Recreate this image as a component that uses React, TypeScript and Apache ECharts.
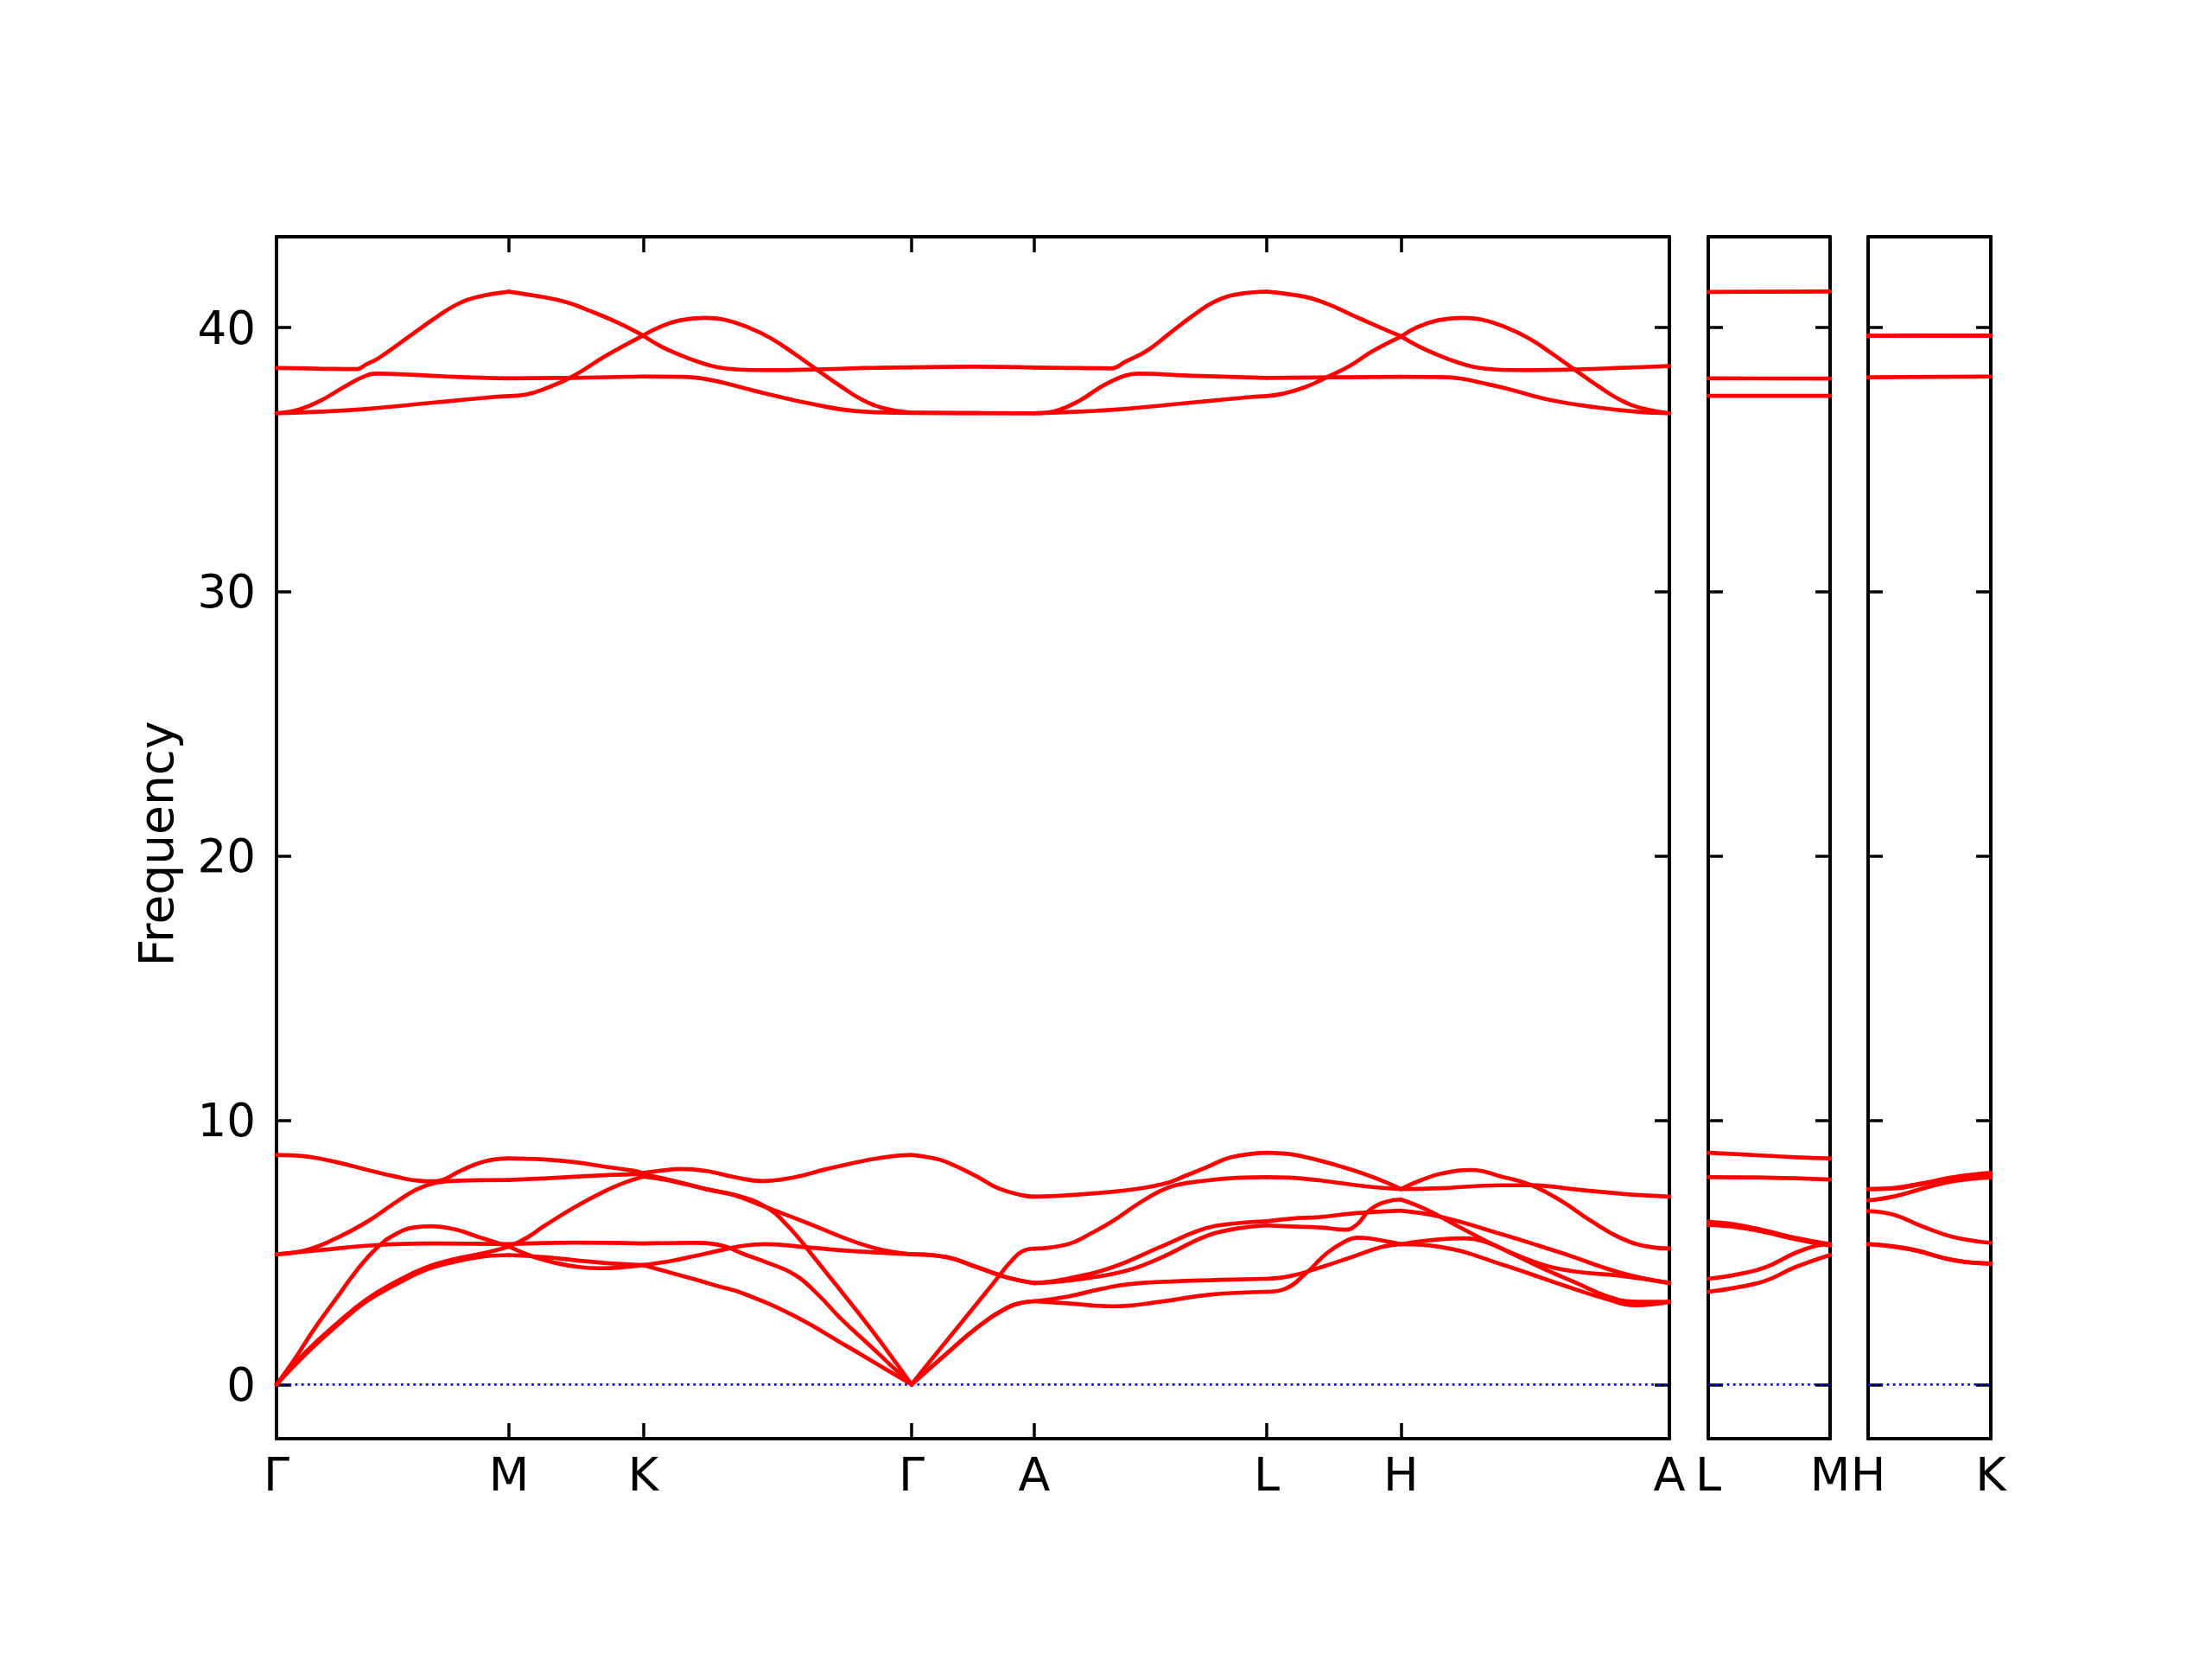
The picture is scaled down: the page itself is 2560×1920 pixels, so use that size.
import React, { useEffect, useRef } from "react";
import * as echarts from "echarts";

// ---- high-symmetry path (distance units, Γ-M = 1) ----
const kPath1 = [0, 1, 1.5774, 2.7321, 3.2601, 4.2601, 4.8375, 5.9922];
const kLabels1 = ["Γ", "M", "K", "Γ", "A", "L", "H", "A"];
const kPath2 = [0, 0.528];
const kLabels2 = ["L", "M"];
const kPath3 = [0, 0.528];
const kLabels3 = ["H", "K"];
const freqTicks = [0, 10, 20, 30, 40];
const freqMin = -2.05;
const freqMax = 43.44;

// ---- panel 1 : Γ-M-K-Γ-A-L-H-A ----
const lowBand1 = [
  [0, 8.69], [0.128, 8.63], [0.256, 8.42], [0.384, 8.14], [0.512, 7.87], [0.615, 7.71], [0.68, 7.69], [0.73, 7.8], [0.794, 8.1], [0.896, 8.45], [1, 8.56],
  [1.152, 8.52], [1.28, 8.42], [1.408, 8.25], [1.536, 8.09], [1.5774, 8.0],
  [1.66, 8.1], [1.741, 8.16], [1.856, 8.07], [1.97, 7.85], [2.09, 7.7], [2.231, 7.85], [2.361, 8.14], [2.557, 8.52], [2.65, 8.64], [2.7321, 8.69],
  [2.818, 8.58], [2.883, 8.42], [3.013, 7.87], [3.104, 7.43], [3.209, 7.16], [3.2601, 7.11],
  [3.4, 7.16], [3.55, 7.26], [3.7, 7.4], [3.835, 7.64], [3.91, 7.9], [3.99, 8.18], [4.107, 8.6], [4.2601, 8.77],
  [4.36, 8.72], [4.45, 8.56], [4.56, 8.3], [4.67, 8.0], [4.76, 7.7], [4.8375, 7.4],
  [4.92, 7.72], [5.01, 7.98], [5.14, 8.12], [5.27, 7.87], [5.4, 7.54], [5.528, 6.94], [5.657, 6.18], [5.786, 5.53], [5.915, 5.2], [5.9922, 5.15],
];
const lowBand2 = [
  [0, 4.93], [0.128, 5.09], [0.256, 5.53], [0.384, 6.13], [0.512, 6.89], [0.602, 7.38], [0.679, 7.62], [0.768, 7.71], [1, 7.74],
  [1.15, 7.8], [1.28, 7.86], [1.41, 7.92], [1.5774, 7.97],
  [1.664, 7.8], [1.76, 7.6], [1.856, 7.38], [1.97, 7.16], [2.1, 6.73], [2.296, 6.07], [2.427, 5.6], [2.557, 5.2], [2.65, 5.02], [2.7321, 4.93],
  [2.883, 4.82], [3.013, 4.44], [3.144, 4.05], [3.2601, 3.84],
  [3.4, 4.0], [3.6, 4.45], [3.8, 5.2], [4.0, 5.92], [4.13, 6.1], [4.2601, 6.18],
  [4.365, 6.28], [4.494, 6.34], [4.6, 6.45], [4.72, 6.53], [4.8375, 6.58],
  [5.012, 6.34], [5.27, 5.69], [5.528, 4.98], [5.786, 4.22], [5.9922, 3.84],
];
const lowBand3 = [
  [0, 4.93], [0.192, 5.09], [0.384, 5.25], [0.64, 5.34], [1, 5.31],
  [1.28, 5.37], [1.5774, 5.34],
  [1.792, 5.36], [1.92, 5.25], [2.007, 4.95], [2.1, 4.65], [2.231, 4.15], [2.33, 3.4], [2.427, 2.5], [2.55, 1.5], [2.64, 0.75], [2.7321, 0],
  [2.883, 1.17], [3.013, 2.15], [3.144, 2.91], [3.209, 3.1], [3.2601, 3.15],
  [3.404, 3.33], [3.55, 3.62], [3.67, 3.8], [3.85, 3.9], [4.015, 3.95], [4.2601, 4.0],
  [4.365, 4.11], [4.494, 4.44], [4.624, 4.82], [4.753, 5.2], [4.8375, 5.31],
  [4.93, 5.43], [5.012, 5.5], [5.1, 5.53], [5.2, 5.4], [5.335, 4.9], [5.464, 4.49], [5.593, 4.27], [5.787, 4.11], [5.9922, 3.84],
];
const lowBand4 = [
  [0, 0], [0.077, 0.95], [0.166, 2.15], [0.256, 3.24], [0.346, 4.33], [0.435, 5.2], [0.512, 5.69], [0.589, 5.94], [0.666, 5.99], [0.768, 5.87], [0.871, 5.58], [1, 5.22],
  [1.1, 4.85], [1.2, 4.6], [1.3, 4.45], [1.39, 4.4], [1.5774, 4.52],
  [1.7, 4.68], [1.792, 4.85], [1.92, 5.1], [2.007, 5.25], [2.1, 5.31], [2.296, 5.18], [2.491, 5.04], [2.7321, 4.93],
  [2.883, 4.82], [3.013, 4.44], [3.144, 4.05], [3.2601, 3.84],
  [3.4, 3.93], [3.64, 4.27], [3.8, 4.78], [4.0, 5.62], [4.13, 5.9], [4.2601, 6.02],
  [4.365, 5.98], [4.494, 5.94], [4.598, 5.86], [4.65, 6.07], [4.702, 6.6], [4.779, 6.93], [4.8375, 7.0],
  [4.947, 6.62], [5.076, 6.02], [5.206, 5.42], [5.335, 4.87], [5.464, 4.33], [5.593, 3.84], [5.722, 3.35], [5.851, 3.13], [5.9922, 3.13],
];
const lowBand5 = [
  [0, 0], [0.128, 1.25], [0.256, 2.28], [0.384, 3.2], [0.512, 3.88], [0.64, 4.42], [0.768, 4.75], [0.896, 4.98], [1, 5.22],
  [1.076, 5.55], [1.152, 6.0], [1.28, 6.7], [1.408, 7.3], [1.5, 7.65], [1.5774, 7.87],
  [1.664, 7.76], [1.76, 7.58], [1.856, 7.38], [1.97, 7.18], [2.1, 6.75], [2.2, 6.0], [2.3, 4.95], [2.4, 3.85], [2.5, 2.75], [2.6, 1.6], [2.7321, 0],
  [2.818, 0.95], [2.948, 2.36], [3.079, 3.78], [3.17, 4.76], [3.222, 5.09], [3.2601, 5.14],
  [3.404, 5.31], [3.5, 5.7], [3.6, 6.2], [3.7, 6.8], [3.796, 7.3], [3.87, 7.55], [4.0, 7.72], [4.13, 7.82], [4.2601, 7.85],
  [4.36, 7.83], [4.494, 7.72], [4.688, 7.5], [4.8375, 7.4],
  [5.012, 7.43], [5.14, 7.5], [5.27, 7.54], [5.4, 7.54], [5.593, 7.38], [5.787, 7.22], [5.9922, 7.11],
];
const lowBand6 = [
  [0, 0], [0.128, 1.17], [0.256, 2.2], [0.384, 3.13], [0.512, 3.78], [0.64, 4.33], [0.768, 4.65], [0.896, 4.85], [1, 4.9],
  [1.152, 4.82], [1.28, 4.71], [1.408, 4.6], [1.5774, 4.52],
  [1.7, 4.22], [1.792, 4.0], [1.9, 3.72], [2.007, 3.45], [2.231, 2.58], [2.45, 1.47], [2.6, 0.69], [2.7321, 0],
  [2.883, 1.17], [3.013, 2.15], [3.144, 2.91], [3.209, 3.1], [3.2601, 3.15],
  [3.404, 3.07], [3.6, 2.96], [3.8, 3.13], [4.015, 3.4], [4.2601, 3.51],
  [4.339, 3.62], [4.43, 4.22], [4.52, 4.98], [4.598, 5.42], [4.65, 5.56], [4.702, 5.53], [4.8375, 5.31],
  [5.012, 5.2], [5.27, 4.55], [5.528, 3.78], [5.72, 3.24], [5.85, 3.0], [5.93, 3.05], [5.9922, 3.13],
];
const highBandA = [
  [0, 38.47], [0.17, 38.45], [0.346, 38.43], [0.384, 38.6], [0.44, 38.85], [0.576, 39.7], [0.672, 40.3], [0.768, 40.84], [0.864, 41.16], [1, 41.36],
  [1.152, 41.15], [1.248, 40.96], [1.344, 40.65], [1.46, 40.22], [1.5774, 39.7],
  [1.652, 39.3], [1.727, 39.0], [1.817, 38.7], [1.897, 38.5], [1.977, 38.42], [2.127, 38.39], [2.327, 38.42], [2.53, 38.47], [2.7321, 38.5],
  [3.0, 38.52], [3.2601, 38.49],
  [3.45, 38.47], [3.592, 38.46], [3.65, 38.7], [3.747, 39.14], [3.843, 39.79], [3.94, 40.44], [4.037, 40.99], [4.133, 41.26], [4.2601, 41.36],
  [4.423, 41.17], [4.52, 40.9], [4.617, 40.52], [4.713, 40.14], [4.8375, 39.67],
  [4.912, 39.3], [4.987, 39.0], [5.077, 38.7], [5.157, 38.5], [5.237, 38.42], [5.387, 38.39], [5.587, 38.42], [5.79, 38.48], [5.9922, 38.55],
];
const highBandB = [
  [0, 36.76], [0.192, 36.82], [0.384, 36.92], [0.576, 37.08], [0.768, 37.24], [0.9, 37.35], [1, 37.41],
  [1.075, 37.47], [1.152, 37.68], [1.267, 38.12], [1.42, 38.95], [1.5774, 39.7],
  [1.647, 40.02], [1.737, 40.28], [1.841, 40.37], [1.927, 40.3], [2.027, 40.02], [2.127, 39.6], [2.227, 39.02], [2.323, 38.42], [2.427, 37.78], [2.527, 37.24], [2.627, 36.92], [2.7321, 36.78],
  [3.0, 36.77], [3.2601, 36.76],
  [3.452, 36.82], [3.644, 36.92], [3.836, 37.08], [4.028, 37.24], [4.16, 37.35], [4.2601, 37.41],
  [4.33, 37.5], [4.423, 37.74], [4.52, 38.13], [4.617, 38.55], [4.713, 39.1], [4.8375, 39.66],
  [4.907, 40.02], [4.997, 40.28], [5.101, 40.37], [5.187, 40.3], [5.287, 40.02], [5.387, 39.6], [5.487, 39.02], [5.583, 38.42], [5.687, 37.78], [5.787, 37.24], [5.887, 36.92], [5.9922, 36.76],
];
const highBandC = [
  [0, 36.76], [0.096, 36.9], [0.192, 37.25], [0.288, 37.74], [0.384, 38.18], [0.44, 38.26], [0.576, 38.22], [0.768, 38.14], [1, 38.08],
  [1.267, 38.1], [1.5774, 38.15],
  [1.75, 38.14], [1.85, 38.05], [1.92, 37.92], [2.016, 37.7], [2.112, 37.49], [2.304, 37.11], [2.496, 36.84], [2.7321, 36.77],
  [3.0, 36.76], [3.2601, 36.76],
  [3.36, 36.87], [3.457, 37.25], [3.553, 37.79], [3.65, 38.18], [3.708, 38.26], [3.94, 38.18], [4.2601, 38.1],
  [4.52, 38.12], [4.8375, 38.14],
  [5.0, 38.13], [5.099, 38.07], [5.2, 37.88], [5.293, 37.69], [5.486, 37.25], [5.68, 36.98], [5.85, 36.82], [5.9922, 36.76],
];

// ---- panel 2 : L-M ----
const lmBand1 = [[0, 8.77], [0.121, 8.72], [0.249, 8.66], [0.377, 8.6], [0.528, 8.56]];
const lmBand2 = [[0, 7.85], [0.249, 7.83], [0.528, 7.76]];
const lmBand3 = [[0, 6.16], [0.121, 6.05], [0.249, 5.82], [0.377, 5.55], [0.528, 5.31]];
const lmBand4 = [[0, 6.04], [0.121, 5.96], [0.249, 5.76], [0.377, 5.5], [0.528, 5.26]];
const lmBand5 = [[0, 4.0], [0.121, 4.16], [0.249, 4.44], [0.377, 4.98], [0.467, 5.25], [0.528, 5.31]];
const lmBand6 = [[0, 3.51], [0.121, 3.67], [0.249, 3.93], [0.377, 4.44], [0.528, 4.9]];
const lmHigh1 = [[0, 41.35], [0.528, 41.37]];
const lmHigh2 = [[0, 38.08], [0.528, 38.07]];
const lmHigh3 = [[0, 37.42], [0.528, 37.42]];

// ---- panel 3 : H-K ----
const hkBand1 = [[0, 7.4], [0.112, 7.44], [0.24, 7.63], [0.368, 7.85], [0.528, 8.01]];
const hkBand2 = [[0, 7.4], [0.112, 7.42], [0.24, 7.6], [0.368, 7.8], [0.528, 7.95]];
const hkBand3 = [[0, 6.97], [0.112, 7.12], [0.24, 7.43], [0.368, 7.7], [0.528, 7.84]];
const hkBand4 = [[0, 6.56], [0.112, 6.42], [0.24, 5.96], [0.368, 5.58], [0.528, 5.36]];
const hkBand5 = [[0, 5.31], [0.176, 5.14], [0.368, 4.71], [0.528, 4.58]];
const hkBand6 = [[0, 5.31], [0.176, 5.12], [0.368, 4.7], [0.528, 4.57]];
const hkHigh1 = [[0, 39.69], [0.528, 39.7]];
const hkHigh2 = [[0, 39.69], [0.528, 39.69]];
const hkHigh3 = [[0, 38.12], [0.528, 38.15]];

const FONT = "DejaVu Sans";

function splitSegments(pts: number[][], breaks: number[]) {
  const out: number[][][] = [];
  for (let i = 0; i < breaks.length - 1; i++) {
    const a = breaks[i] - 1e-6;
    const b = breaks[i + 1] + 1e-6;
    const s = pts.filter((p) => p[0] >= a && p[0] <= b);
    if (s.length > 1) out.push(s);
  }
  return out;
}

function buildOption() {
  const panels = [
    {
      box: { left: 320, top: 274, width: 1612, height: 1391 },
      ks: kPath1, labels: kLabels1, yLabels: true,
      bands: [lowBand1, lowBand2, lowBand3, lowBand4, lowBand5, lowBand6, highBandA, highBandB, highBandC],
    },
    {
      box: { left: 1977, top: 274, width: 141, height: 1391 },
      ks: kPath2, labels: kLabels2, yLabels: false,
      bands: [lmBand1, lmBand2, lmBand3, lmBand4, lmBand5, lmBand6, lmHigh1, lmHigh2, lmHigh3],
    },
    {
      box: { left: 2162, top: 274, width: 142, height: 1391 },
      ks: kPath3, labels: kLabels3, yLabels: false,
      bands: [hkBand1, hkBand2, hkBand3, hkBand4, hkBand5, hkBand6, hkHigh1, hkHigh2, hkHigh3],
    },
  ];

  const axisLine = { show: true, onZero: false, lineStyle: { color: "#000", width: 4 } };
  const tickStyle = { color: "#000", width: 3.5 };

  const grid: any[] = [];
  const xAxis: any[] = [];
  const yAxis: any[] = [];
  const series: any[] = [];

  panels.forEach((p, i) => {
    const len = p.ks[p.ks.length - 1];
    grid.push({ ...p.box, containLabel: false, outerBoundsMode: "none" });
    const lbl = (v: number) => {
      const idx = p.ks.findIndex((k) => Math.abs(k - v) < 1e-4);
      return idx >= 0 ? p.labels[idx] : "";
    };
    const xBase = {
      gridIndex: i, type: "value", min: 0, max: len,
      axisLine, splitLine: { show: false },
      axisTick: { show: true, inside: true, length: 18, lineStyle: tickStyle, customValues: p.ks },
    };
    xAxis.push({
      ...xBase, position: "bottom",
      axisLabel: {
        show: true, customValues: p.ks, formatter: lbl, fontSize: 54, fontFamily: FONT,
        color: "#000", margin: 14, showMinLabel: true, showMaxLabel: true, hideOverlap: false,
      },
    });
    xAxis.push({ ...xBase, position: "top", axisLabel: { show: false } });
    const yBase = {
      gridIndex: i, type: "value", min: freqMin, max: freqMax,
      axisLine, splitLine: { show: false },
      axisTick: { show: true, inside: true, length: 17, lineStyle: tickStyle, customValues: freqTicks },
    };
    yAxis.push({
      ...yBase, position: "left",
      axisLabel: p.yLabels
        ? { show: true, customValues: freqTicks, formatter: (v: number) => String(v), fontSize: 53, fontFamily: FONT, color: "#000", margin: 24, showMinLabel: true, showMaxLabel: true }
        : { show: false },
      ...(p.yLabels
        ? { name: "Frequency", nameLocation: "middle", nameGap: 112, nameTextStyle: { fontSize: 55, fontFamily: FONT, color: "#000", padding: [0, 14, 0, 0] } }
        : {}),
    });
    yAxis.push({ ...yBase, position: "right", axisLabel: { show: false } });

    // zero line
    series.push({
      type: "line", xAxisIndex: 2 * i, yAxisIndex: 2 * i, silent: true, showSymbol: false, z: 1,
      data: [[0, 0], [len, 0]],
      lineStyle: { color: "#0000ff", width: 2.7, type: [2.7, 4.5] },
    });

    p.bands.forEach((band) => {
      splitSegments(band, p.ks).forEach((seg) => {
        series.push({
          type: "line", xAxisIndex: 2 * i, yAxisIndex: 2 * i, silent: true, showSymbol: false, z: 3,
          data: seg, smooth: 0.45,
          lineStyle: { color: "#ff0000", width: 4.7, cap: "round", join: "round" },
        });
      });
    });
  });

  return {
    animation: false,
    backgroundColor: "#ffffff",
    textStyle: { fontFamily: FONT },
    grid, xAxis, yAxis, series,
  };
}

export default function App() {
  const ref = useRef<HTMLDivElement>(null);
  useEffect(() => {
    const chart = echarts.init(ref.current as HTMLDivElement, null, { renderer: "svg" });
    chart.setOption(buildOption() as any);
    return () => chart.dispose();
  }, []);
  return (
    <div
      ref={ref}
      style={{ position: "fixed", left: 0, top: 0, width: 2560, height: 1920, background: "#ffffff" }}
    />
  );
}
